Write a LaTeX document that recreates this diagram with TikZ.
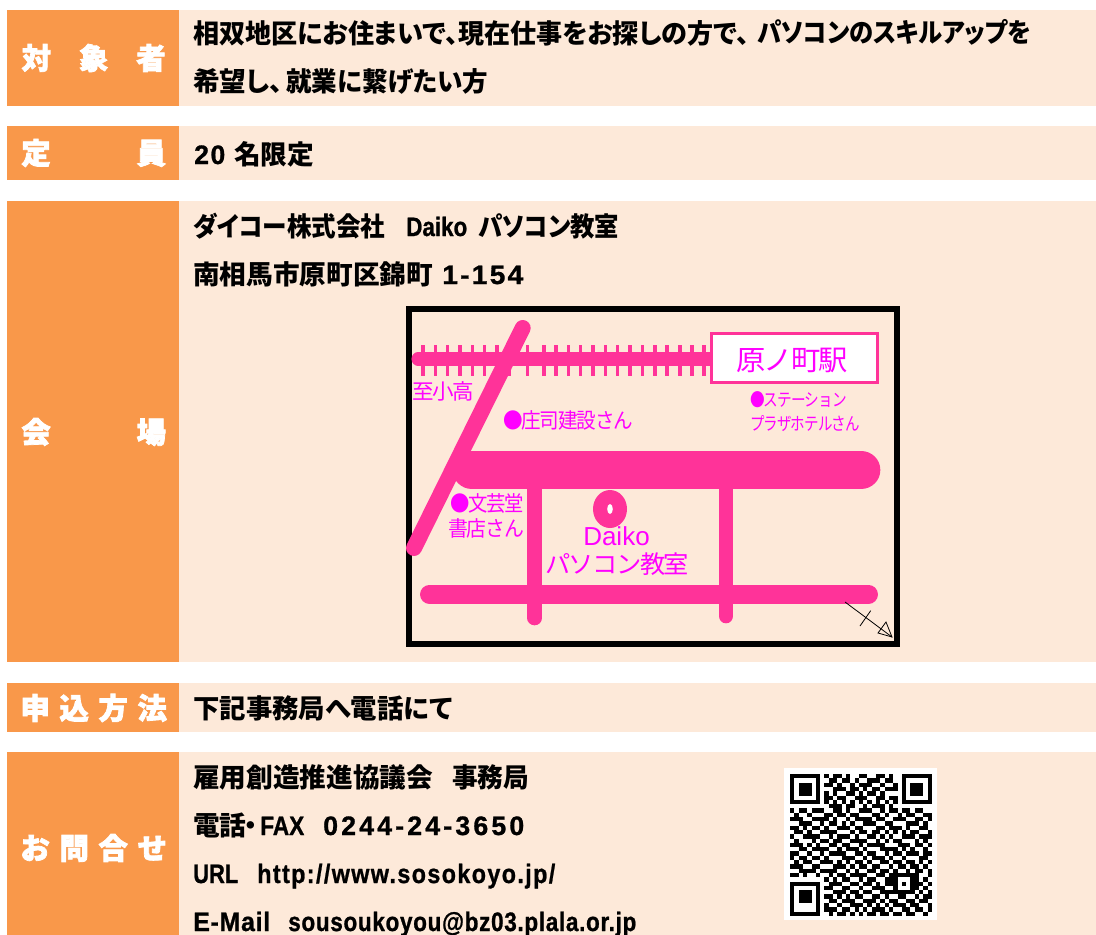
\documentclass[tikz,border=0pt]{standalone}
\usepackage{fontspec}
\newfontfamily\jp{Noto Sans CJK JP}[RawFeature=+palt]
\newfontfamily\jph{Noto Sans CJK JP}[BoldFeatures={FakeBold=2.5}]
\newfontfamily\jpl{Noto Sans CJK JP}[LetterSpace=-6]
\newfontfamily\lat{Liberation Sans}[FakeBold=1]
\newfontfamily\arialish{Liberation Sans}
\definecolor{orangeband}{HTML}{F9984A}
\definecolor{paleband}{HTML}{FDE9D9}
\definecolor{road}{HTML}{FF3399}
\definecolor{maptext}{HTML}{FF00FF}
\newdimen\px \px=.75pt
\newcount\qrx
\newcommand{\bodyfont}{\jp\bfseries\fontsize{20pt}{20pt}\selectfont}
\newcommand{\heavyfont}{\jph\bfseries\fontsize{22pt}{22pt}\selectfont}
\newcommand{\atx}[2]{\rlap{\hskip #1\px #2}}
% target width in px, letterspacing, text
\newcommand{\latw}[3]{\resizebox{#1\px}{\height}{\lat\addfontfeature{LetterSpace=#2}\fontsize{20pt}{20pt}\selectfont #3}}
\newcommand{\jpw}[2]{\resizebox{#1\px}{\height}{#2}}
\newcommand{\fitw}[3]{\resizebox{#1\px}{\height}{\jpl\fontsize{#2}{#2}\selectfont #3}}
\tikzset{
  x=.75pt,y=-.75pt,
  bodytext/.style={anchor=base west,inner sep=0pt,text=black,font=\bodyfont},
  headtext/.style={anchor=center,inner sep=0pt,text=white,font=\heavyfont},
  maplabel/.style={anchor=center,inner sep=0pt,text=maptext},
  roadline/.style={draw=road,line cap=round},
  tick/.style={draw=road,line width=2.5pt},
}
\def\qrparse#1{\ifx#1\relax\let\qrnext\relax\else
  \if#11\fill[black] ({790+4.3*\the\qrx},{774+4.3*\qry}) rectangle +(4.35,4.35);\fi
  \advance\qrx by 1 \let\qrnext\qrparse\fi\qrnext}
\begin{document}
\begin{tikzpicture}
\useasboundingbox (0,0) rectangle (1096,935);
\fill[white] (0,0) rectangle (1096,935);
% bands
\foreach \a/\b in {10/106,126/180,201/662,683/732,752/935}{
  \fill[orangeband] (7,\a) rectangle (179,\b);
  \fill[paleband] (179,\a) rectangle (1096,\b);
}
% heading labels
\node[headtext] (h1) at (93.7,58) {対\hspace{28\px}象\hspace{28\px}者};
\node[headtext] (h2) at (93.7,153) {定\hspace{86\px}員};
\node[headtext] (h3) at (93.7,432) {会\hspace{86\px}場};
\node[headtext] (h4) at (93.7,708) {申\hspace{9.7\px}込\hspace{9.7\px}方\hspace{9.7\px}法};
\node[headtext] (h5) at (93.7,848) {お\hspace{9.7\px}問\hspace{9.7\px}合\hspace{9.7\px}せ};
% body text
\node[bodytext] (t1) at (193,43) {\makebox[838\px][l]{\atx{0}{\jpw{556}{相双地区にお住まいで、現在仕事をお探しの方で、}}\atx{564}{\jpw{274}{パソコンのスキルアップを}}}};
\node[bodytext] (t2) at (193,91) {\makebox[295\px][l]{\atx{0}{希望し、}\atx{93}{\jpw{202}{就業に繋げたい方}}}};
\node[bodytext] (t3) at (193,164) {\makebox[120\px][l]{\atx{1}{\latw{31}{6}{20}}\atx{41}{名限定}}};
\node[bodytext] (t4) at (193,236) {\makebox[426\px][l]{\atx{0}{\jpw{192}{ダイコー株式会社}}\atx{213}{\latw{61}{0}{Daiko}}\atx{285}{\jpw{141}{パソコン教室}}}};
\node[bodytext] (t5) at (193,284) {\makebox[331\px][l]{\atx{0}{南相馬市原町区錦町}\atx{249}{\latw{81}{8}{1-154}}}};
\node[bodytext] (t6) at (193,718) {\jpw{259}{下記事務局へ電話にて}};
\node[bodytext] (t7) at (193,787) {\makebox[336\px][l]{\atx{0}{雇用創造推進協議会}\atx{259}{\jpw{77}{事務局}}}};
\node[bodytext] (t8) at (193,835) {\makebox[331\px][l]{\atx{0}{電話}\atx{51}{・}\atx{67}{\latw{44}{0}{FAX}}\atx{130}{\latw{201}{12}{0244-24-3650}}}};
\node[bodytext] (t9) at (193,883) {\makebox[362\px][l]{\atx{0}{\latw{45}{0}{URL}}\atx{64}{\latw{298}{6}{http://www.sosokoyo.jp/}}}};
\node[bodytext] (t10) at (193,931) {\makebox[443\px][l]{\atx{0}{\latw{77}{3}{E-Mail}}\atx{95}{\latw{348}{3}{sousoukoyou@bz03.plala.or.jp}}}};
% map frame
\draw[black,line width=4.5pt] (409,309) rectangle (897,644);
% railway
\foreach \tx in {423,435.3,447.7,460,472.3,484.7,497,509.3,527.7,544,556,568.3,580.7,593,605.3,617.7,630,642.3,655,667,680,692,704}{
  \draw[tick] (\tx,345) -- (\tx,376);
}
\draw[roadline,line width=9.8pt] (418,359) -- (712,359);
% roads
\draw[roadline,line width=12pt] (522.7,328) -- (414,548);
\draw[roadline,line width=11pt] (534.7,480) -- (534.7,618);
\draw[roadline,line width=11pt] (726,480) -- (726,616);
\draw[roadline,line width=29pt] (472,470) -- (861,470);
\draw[roadline,line width=14.2pt] (429.5,594.3) -- (868.5,594.3);
% school mark
\fill[road] (610,509) ellipse [x radius=17,y radius=19];
\fill[white] (610,509) ellipse [x radius=2.8,y radius=5];
% station
\draw[road,fill=white,line width=2.3pt] (711.5,333.5) rectangle (877.5,382.5);
\node[maplabel] (stn) at (792,360) {\fitw{112}{21pt}{原ノ町駅}};
% map labels
\node[maplabel] (m1) at (443,391) {\fitw{62}{16pt}{至小高}};
\node[maplabel] (m2) at (568,420) {\fitw{130}{16pt}{●庄司建設さん}};
\node[maplabel] (m3) at (487,503) {\fitw{74}{16pt}{●文芸堂}};
\node[maplabel] (m4) at (486,528) {\fitw{76}{16pt}{書店さん}};
\node[maplabel,font={\arialish\fontsize{19.5pt}{19.5pt}\selectfont}] (m5) at (616.5,536) {Daiko};
\node[maplabel] (m6) at (617,564) {\fitw{144}{18.5pt}{パソコン教室}};
\node[maplabel] (m7) at (798.5,400) {\fitw{97}{13.5pt}{●ステーション}};
\node[maplabel] (m8) at (805,424) {\fitw{110}{13.5pt}{プラザホテルさん}};
% compass
\draw[black,line width=.6pt] (845,602) -- (892,637);
\draw[black,line width=.6pt] (870.7,610.7) -- (860,626);
\draw[black,line width=.6pt] (892,637) -- (886,622) -- (878,633) -- cycle;
% QR
\fill[white] (784,768) rectangle (937,920);
\foreach \qrrow [count=\qry from 0] in {
111111101011010011001101001111111,
100000100110110100111011001000001,
101110101101001011100100101011101,
101110100011101101011011101011101,
101110101010011010110100001011101,
100000101101100111001101101000001,
111111101010101010101010101111111,
000000000111011001011101000000000,
101101110011010011100101101101100,
010010001101101100011010010110011,
111001111010010111101100111001101,
001110010110101001110011000111010,
110101101001110110001101110100110,
011010011110001011011010101011001,
100111100101110100110101001110111,
010001011011001111001010110001010,
111010100110110010111100011101101,
001101111001011101000111101010010,
110010010111100110110010110111011,
101101101000111001011101001000110,
010110011101010110100110110110101,
111001100011101011011001011011010,
001111011110010100110110100101101,
110100100101101111001101111111001,
000000001010110010110011100011010,
111111100111001101101011101011101,
100000101100110010011100100011010,
101110100011101101100111111110101,
101110101101010110011010011001011,
101110100110111001110101100110110,
100000101001001110101010111011001,
100000101110110101011101001101101,
111111100101101010110110110110010}{
  \global\qrx=0 \expandafter\qrparse\qrrow\relax
}
\end{tikzpicture}
\end{document}
